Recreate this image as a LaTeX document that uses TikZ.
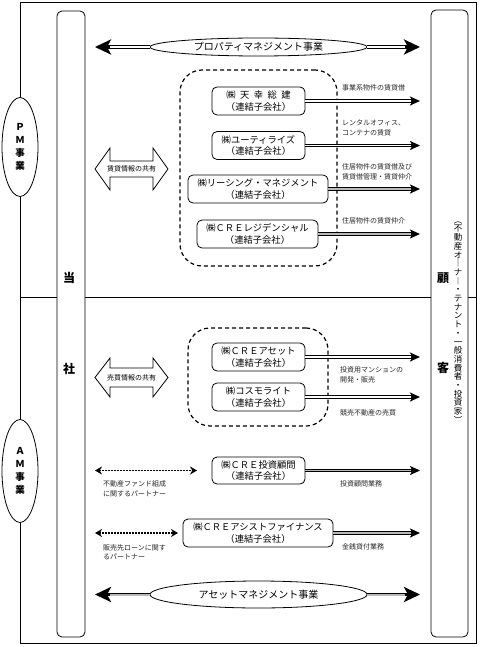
\documentclass[tikz,border=0pt]{standalone}
\usepackage{fontspec}
\setmainfont{Noto Sans CJK JP}
\usetikzlibrary{arrows.meta,shapes.geometric}
\tikzset{
 frame/.style={draw, line width=0.9pt},
 pillar/.style={draw, fill=white, rounded corners=5pt, line width=0.8pt},
 company/.style={draw, fill=white, rounded corners=5pt, line width=0.8pt, align=center,
   font=\fontsize{9.3}{11.5}\selectfont, inner sep=1pt},
 group/.style={draw, dash pattern=on 4pt off 3pt, line width=1.2pt, rounded corners=22pt},
 biz/.style={draw, ellipse, fill=white, line width=0.8pt, font=\fontsize{10}{12}\selectfont, inner sep=0pt},
 side/.style={draw, ellipse, fill=white, line width=0.8pt, align=center,
   font=\fontsize{9.5}{13}\selectfont\bfseries, inner sep=0pt, minimum width=36pt},
 lbl/.style={anchor=west, align=left, font=\fontsize{7}{9.5}\selectfont, inner sep=0pt, text=black!85},
 svc/.style={draw, line width=3.2pt, -{Stealth[length=10pt,width=9pt,inset=2.5pt]},
   postaction={draw=white, line width=1.6pt, -, shorten >=9pt}},
 svcg/.style={draw, line width=3.2pt, -{Stealth[length=10pt,width=9pt,inset=2.5pt]},
   postaction={draw=gray!55, line width=1.6pt, -, shorten >=9pt}},
 big/.style={draw, line width=3.6pt, -{Stealth[length=16pt,width=15pt,inset=4pt]},
   postaction={draw=white, line width=2pt, -, shorten >=15pt}},
 bigg/.style={draw, line width=3.6pt, -{Stealth[length=16pt,width=15pt,inset=4pt]},
   postaction={draw=gray!55, line width=2pt, -, shorten >=15pt}},
 partner/.style={draw, dash pattern=on 1.6pt off 1.4pt, line width=1.6pt,
   {Stealth[length=7pt,width=8pt]}-{Stealth[length=7pt,width=8pt]}},
 block/.style={draw, fill=white, line width=0.8pt},
 share/.style={font=\fontsize{7}{9}\selectfont, inner sep=0pt},
 pill/.style={font=\fontsize{12}{14}\selectfont\bfseries, inner sep=0pt},
 vtext/.style={align=center, font=\fontsize{8.5}{8.7}\selectfont, inner sep=0pt},
}
\begin{document}
\begin{tikzpicture}[x=1pt,y=-1pt]
\useasboundingbox (0,0) rectangle (480,647);
% frame and divider
\draw[frame] (20,2) rectangle (476,643);
\draw[frame] (20,297) -- (476,297);
% pillars
\draw[pillar] (57,11) rectangle (85,637);
\draw[pillar] (431,10) rectangle (468,637);
% side ellipses
\node[side, minimum height=99pt] (pm) at (20,147) {Ｐ\\Ｍ\\事\\業};
\node[side, minimum height=103pt] (am) at (20,471) {Ａ\\Ｍ\\事\\業};
% pillar texts
\node[pill] (tou) at (69,278) {当};
\node[pill] (sha) at (69,369) {社};
\node[pill] (ko) at (443,278) {顧};
\node[pill] (kyaku) at (443,368) {客};
\node[vtext] (cust) at (458,322.5) {︵\\不\\動\\産\\オ\\︱\\ナ\\︱\\・\\テ\\ナ\\ン\\ト\\・\\一\\般\\消\\費\\者\\・\\投\\資\\家\\︶};
% PM business arrow
\node[biz, minimum width=217pt, minimum height=18pt] (pmbiz) at (258.5,47) {プロパティマネジメント事業};
\coordinate (pmL) at (95,47);
\coordinate (pmR) at (420,47);
\draw[big] (pmbiz.west) -- (pmL);
\draw[big] (pmbiz.east) -- (pmR);
% PM group
\node[group, minimum width=157pt, minimum height=196pt] (pmgrp) at (258.5,168) {};
\node[company, minimum width=93pt, minimum height=28pt] (tenko) at (258.5,101)
  {㈱\hspace{4.5pt}天\hspace{4.5pt}幸\hspace{4.5pt}総\hspace{4.5pt}建\\（連結子会社）};
\node[company, minimum width=93pt, minimum height=28pt] (util) at (258.5,145.5)
  {㈱ユーティライズ\\（連結子会社）};
\node[company, minimum width=140pt, minimum height=28pt] (leas) at (258,189)
  {㈱リーシング・マネジメント\\（連結子会社）};
\node[company, minimum width=121pt, minimum height=28pt] (resi) at (257.5,234)
  {㈱ＣＲＥレジデンシャル\\（連結子会社）};
\coordinate (e1) at (420,101);
\coordinate (e2) at (420,145.5);
\coordinate (e3) at (420,189);
\coordinate (e4) at (420,234);
\draw[svc] (tenko.east) -- (e1);
\draw[svc] (util.east) -- (e2);
\draw[svcg] (leas.east) -- (e3);
\draw[svcg] (resi.east) -- (e4);
\node[lbl] (l1) at (342,88) {事業系物件の賃貸借};
\node[lbl] (l2) at (342,128) {レンタルオフィス、\\コンテナの賃貸};
\node[lbl] (l3) at (342,172) {住居物件の賃貸借及び\\賃貸借管理・賃貸仲介};
\node[lbl] (l4) at (342,221) {住居物件の賃貸仲介};
% PM share arrow
\draw[block] (95,169) -- (110,148) -- (110,161) -- (153,161) -- (153,148) -- (168,169)
  -- (153,190) -- (153,177) -- (110,177) -- (110,190) -- cycle;
\node[share] (pmshare) at (131.5,169) {賃貸情報の共有};
% AM group
\node[group, minimum width=140pt, minimum height=98pt] (amgrp) at (258,377) {};
\node[company, minimum width=93pt, minimum height=28pt] (asset) at (258.5,357)
  {㈱ＣＲＥアセット\\（連結子会社）};
\node[company, minimum width=93pt, minimum height=28pt] (cosmo) at (258.5,397)
  {㈱コスモライト\\（連結子会社）};
\coordinate (e5) at (420,357);
\coordinate (e6) at (420,397);
\draw[svc] (asset.east) -- (e5);
\draw[svc] (cosmo.east) -- (e6);
\node[lbl] (l5) at (340,375) {投資用マンションの\\開発・販売};
\node[lbl] (l6) at (340,413) {競売不動産の売買};
% AM share arrow
\draw[block] (95,377.5) -- (110,358) -- (110,368) -- (153,368) -- (153,358) -- (168,377.5)
  -- (153,397) -- (153,387) -- (110,387) -- (110,397) -- cycle;
\node[share] (amshare) at (131.5,377.5) {売買情報の共有};
% advisory
\node[company, minimum width=93pt, minimum height=27pt] (adv) at (258.5,470.5)
  {㈱ＣＲＥ投資顧問\\（連結子会社）};
\coordinate (e7) at (420,470.5);
\draw[svcg] (adv.east) -- (e7);
\node[lbl] (l7) at (340,484) {投資顧問業務};
\coordinate (p1a) at (95,470.5);
\coordinate (p1b) at (197,470.5);
\draw[partner] (p1a) -- (p1b);
\node[lbl] (l8) at (103,489) {不動産ファンド組成\\に関するパートナー};
% finance
\node[company, minimum width=150pt, minimum height=28pt] (fin) at (258,533)
  {㈱ＣＲＥアシストファイナンス\\（連結子会社）};
\coordinate (e8) at (420,533);
\draw[svcg] (fin.east) -- (e8);
\node[lbl] (l9) at (342,547) {金銭貸付業務};
\coordinate (p2a) at (95,533);
\coordinate (p2b) at (178,533);
\draw[partner] (p2a) -- (p2b);
\node[lbl] (l10) at (103,552) {販売先ローンに関す\\るパートナー};
% AM business arrow
\node[biz, minimum width=217pt, minimum height=27pt] (ambiz) at (258.5,594.5) {アセットマネジメント事業};
\coordinate (amL) at (95,594.5);
\coordinate (amR) at (420,594.5);
\draw[bigg] (ambiz.west) -- (amL);
\draw[bigg] (ambiz.east) -- (amR);
\end{tikzpicture}
\end{document}
